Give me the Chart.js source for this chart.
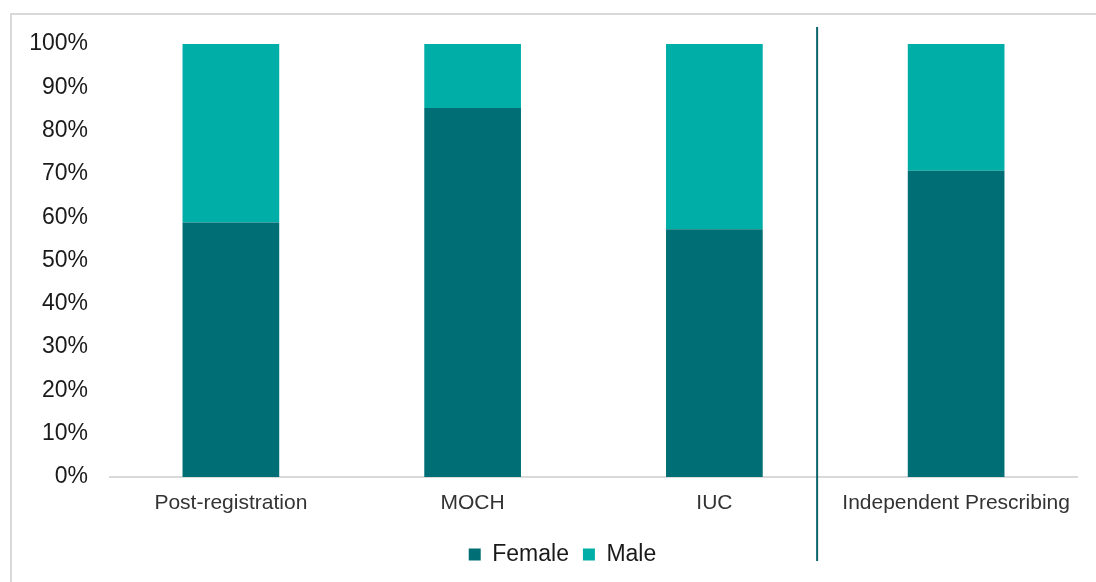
<!DOCTYPE html>
<html>
<head>
<meta charset="utf-8">
<script src="https://cdn.jsdelivr.net/npm/chart.js@4"></script>
<style>
    html, body { margin: 0; padding: 0; background: #ffffff; overflow: hidden; }
    #wrap { position: relative; width: 1096px; height: 582px; }
    #frame {
        position: absolute; left: 10px; top: 13px; width: 1200px; height: 700px;
        border: 2px solid #d9d9d9; box-sizing: border-box;
    }
    #chart { position: absolute; left: 0; top: 0; }
</style>
</head>
<body>
<div id="wrap">
    <div id="frame"></div>
    <canvas id="chart" width="1096" height="582"></canvas>
</div>
<script>
var categories = ["Post-registration", "MOCH", "IUC", "Independent Prescribing"];
var femaleShare = [58.8, 85.2, 57.2, 70.7];
var maleShare = [41.2, 14.8, 42.8, 29.3];
var yTicks = [0, 10, 20, 30, 40, 50, 60, 70, 80, 90, 100];
// divider sits a bit left of the gap between IUC and Independent Prescribing
var dividerAt = 2.425;

var femaleColor = "#006f75";
var maleColor = "#00aea8";

var dividerPlugin = {
    id: 'divider',
    afterLayout: function(chart) {
        // legend in the original is centred a bit right of the canvas middle
        chart.legend.left += 24;
        chart.legend.right += 24;
    },
    afterDraw: function(chart) {
        var xs = chart.scales.x;
        var lo = Math.floor(dividerAt);
        var x = xs.getPixelForValue(lo) + (dividerAt - lo) * (xs.getPixelForValue(lo + 1) - xs.getPixelForValue(lo));
        var ctx = chart.ctx;
        ctx.save();
        ctx.strokeStyle = "#0b636b";
        ctx.lineWidth = 2;
        ctx.beginPath();
        ctx.moveTo(x, chart.chartArea.top - 17);
        ctx.lineTo(x, chart.chartArea.bottom + 84);
        ctx.stroke();
        ctx.restore();
    }
};

var ctx = document.getElementById('chart');
var myChart = new Chart(ctx, {
    type: 'bar',
    data: {
        labels: categories,
        datasets: [{
            label: 'Female',
            data: femaleShare,
            backgroundColor: femaleColor,
            barPercentage: 0.4,
            categoryPercentage: 1.0
        }, {
            label: 'Male',
            data: maleShare,
            backgroundColor: maleColor,
            barPercentage: 0.4,
            categoryPercentage: 1.0
        }]
    },
    options: {
        responsive: false,
        animation: false,
        layout: {
            padding: { top: 44, right: 19, bottom: 6, left: 0 }
        },
        plugins: {
            legend: {
                position: 'bottom',
                labels: {
                    boxWidth: 12,
                    boxHeight: 12,
                    padding: 14,
                    color: '#1a1a1a',
                    font: { family: 'Liberation Sans', size: 23 }
                }
            },
            tooltip: { enabled: false }
        },
        scales: {
            x: {
                stacked: true,
                grid: { display: false, drawTicks: false },
                border: { display: true, color: '#d9d9d9', width: 2 },
                ticks: {
                    padding: 14,
                    color: '#333333',
                    maxRotation: 0,
                    font: { family: 'Liberation Sans', size: 21 }
                },
                afterFit: function(scale) { scale.height = 52; }
            },
            y: {
                stacked: true,
                min: 0,
                max: 100,
                grid: { display: false, drawTicks: false },
                border: { display: false },
                afterBuildTicks: function(scale) {
                    scale.ticks = yTicks.map(function(v) { return { value: v }; });
                },
                ticks: {
                    padding: 22,
                    color: '#1a1a1a',
                    font: { family: 'Liberation Sans', size: 23 },
                    callback: function(v) { return v + '%'; }
                },
                afterFit: function(scale) { scale.width = 110; }
            }
        }
    },
    plugins: [dividerPlugin]
});
</script>
</body>
</html>
